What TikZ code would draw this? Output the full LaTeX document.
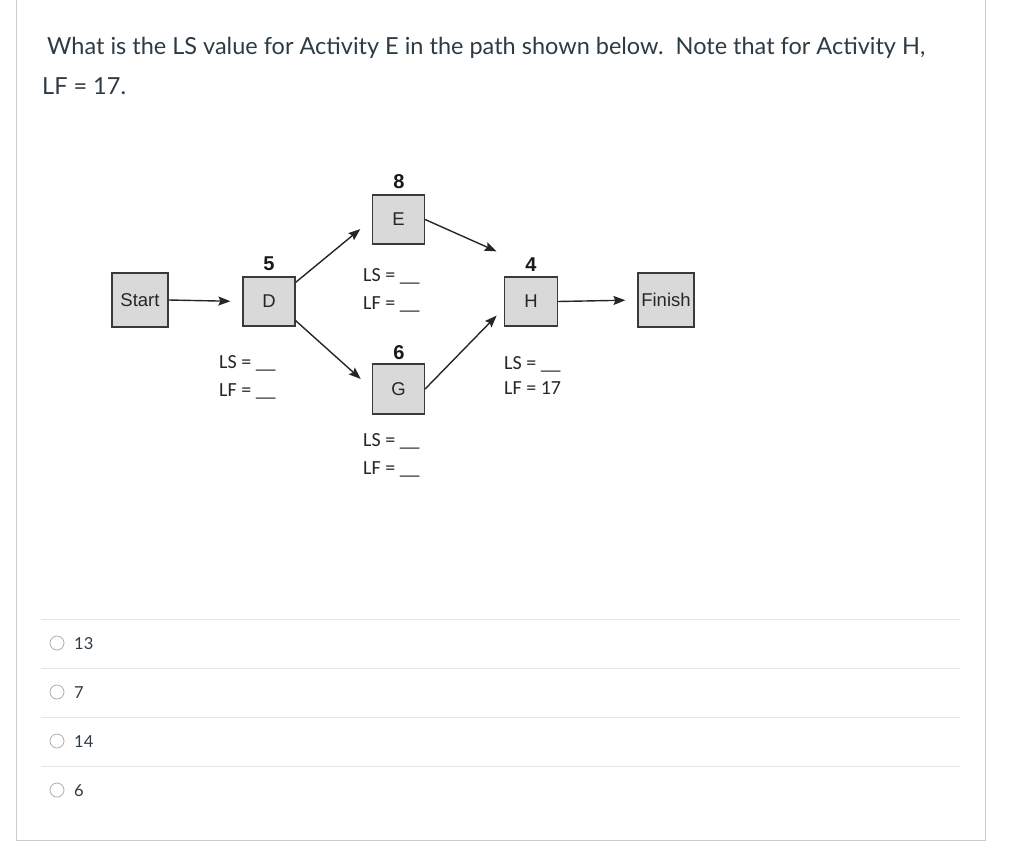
\documentclass[tikz,border=0pt]{standalone}
\usepackage{fontspec}
\setmainfont{Lato}
\newfontfamily\arialf{Liberation Sans}
\newfontfamily\calf{Carlito}
\usetikzlibrary{arrows.meta,calc}
\definecolor{txt}{HTML}{2D3B45}
\definecolor{boxfill}{HTML}{D9D9D9}
\definecolor{boxline}{HTML}{3A3A3A}
\definecolor{frame}{HTML}{C7CDD1}
\definecolor{sep}{HTML}{E3E6E8}
\definecolor{radio}{HTML}{A8ADB0}
\tikzset{
  act/.style={draw=boxline, line width=1.2pt, fill=boxfill, inner sep=0pt, font=\arialf\fontsize{18.5}{20}\selectfont, text=black!85},
  dur/.style={font=\arialf\bfseries\fontsize{20}{22}\selectfont, text=black!90, inner sep=0pt},
  lsf/.style={font=\calf\fontsize{20}{22}\selectfont, text=black!85, inner sep=0pt, anchor=base west},
  arr/.style={draw=black!85, line width=1.4pt, -{Stealth[length=12pt,width=9pt,inset=2pt]}},
  qtext/.style={font=\fontsize{23.5}{28}\selectfont, text=txt, inner sep=0pt, anchor=base west},
  opt/.style={font=\fontsize{16.5}{20}\selectfont, text=txt, inner sep=0pt, anchor=base west},
  rad/.style={draw=radio, line width=0.8pt, circle, minimum size=14pt, inner sep=0pt},
}
\begin{document}
\begin{tikzpicture}[x=1pt,y=-1pt]
\useasboundingbox (0,0) rectangle (1024,856);
% frame
\draw[frame, line width=1pt] (16,0) -- (16,840) -- (985.5,840) -- (985.5,0);
% question
\node[qtext] (q1) at (47,55) {What is the LS value for Activity E in the path shown below.\ \ Note that for Activity H,};
\node[qtext] (q2) at (42,95) {LF = 17.};
% activities
\node[act, minimum width=56pt, minimum height=54pt] (S) at (140,300) {Start};
\node[act, minimum width=52pt, minimum height=49pt] (D) at (269,301.5) {D};
\node[act, minimum width=52pt, minimum height=49pt] (E) at (398.5,219.5) {E};
\node[act, minimum width=52pt, minimum height=50pt] (G) at (398.5,389) {G};
\node[act, minimum width=52.5pt, minimum height=49pt] (H) at (531,301.5) {H};
\node[act, minimum width=56pt, minimum height=54pt] (F) at (666,300) {Finish};
% durations
\node[dur] (dD) at (269,264) {5};
\node[dur] (dE) at (399,182) {8};
\node[dur] (dG) at (399,353) {6};
\node[dur] (dH) at (531,265) {4};
% LS/LF
\node[lsf] (lsD) at (219,368) {LS = \_\_};
\node[lsf] (lfD) at (219,396) {LF = \_\_};
\node[lsf] (lsE) at (363,281) {LS = \_\_};
\node[lsf] (lfE) at (363,309) {LF = \_\_};
\node[lsf] (lsG) at (363,446) {LS = \_\_};
\node[lsf] (lfG) at (363,474) {LF = \_\_};
\node[lsf] (lsH) at (504,369) {LS = \_\_};
\node[lsf] (lfH) at (504,394) {LF = 17};
% arrows
\draw[arr, shorten >=12pt] (S.east) -- (D.west);
\draw[arr, shorten >=15pt] ([yshift=-6pt]D.north east) -- (E.west);
\draw[arr, shorten >=15pt] ([yshift=6pt]D.south east) -- (G.west);
\draw[arr] (E.east) -- ($(H.north west)+(-7.5,-25)$);
\draw[arr] (G.east) -- ($(H.south west)+(-7.5,-11)$);
\draw[arr, shorten >=12pt] (H.east) -- (F.west);
% answer options
\foreach \yy in {619.5,668.5,717.5,766.5}{\draw[sep, line width=1pt] (41,\yy) -- (960,\yy);}
\node[rad] (r1) at (57,643) {};
\node[rad] (r2) at (57,692) {};
\node[rad] (r3) at (57,741) {};
\node[rad] (r4) at (57,790) {};
\node[opt] (o1) at (74,649) {13};
\node[opt] (o2) at (74,698) {7};
\node[opt] (o3) at (74,747) {14};
\node[opt] (o4) at (74,796) {6};
\end{tikzpicture}
\end{document}
